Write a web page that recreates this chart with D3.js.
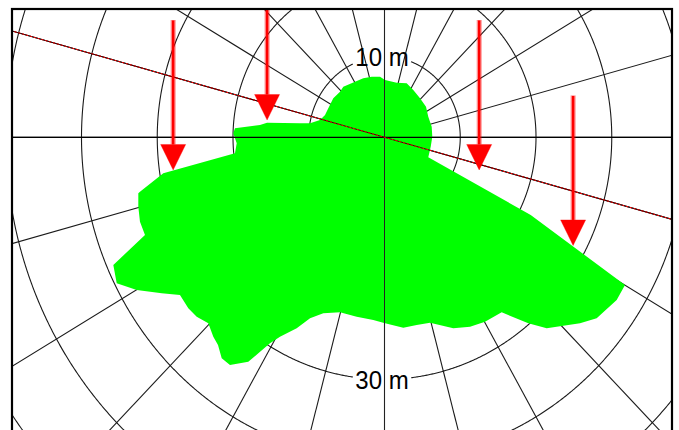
<!DOCTYPE html>
<html>
<head>
<meta charset="utf-8">
<script src="https://cdn.jsdelivr.net/npm/d3@7"></script>
<style>
  html, body { margin: 0; padding: 0; background: #fff; }
  svg { display: block; }
</style>
</head>
<body>
<svg id="chart" width="679" height="430"></svg>
<script>
// Range rings (m) and spoke azimuths (deg, counter-clockwise from east)
const ringRadii = [10, 20, 30, 40, 50, 60, 70];
const spokeAngles = d3.range(0, 360, 15);

// Ring labels
const labelRadii = [10, 30];
const labelTexts = ["10 m", "30 m"];
const labelSides = [1, -1]; // 1 = above centre, -1 = below

// Sight line azimuth (deg)
const sightAngle = 165;

// Covered area outline: east (m) / north (m)
const areaEast = [
  -19.74, -16.44, -15.51, -11.16, -9.83, -8.51, -7.85, -7.42, -6.76, -5.87,
  -5.44, -3.89, -2.80, -1.69, -0.59, 0.07, 1.61, 2.93, 3.80, 4.69,
  5.48, 5.78, 6.23, 6.31, 6.10, 5.78, 19.30, 31.75, 30.65, 28.01,
  25.81, 21.41, 18.98, 15.47, 13.27, 11.29, 9.08, 6.01, 4.25, 2.48,
  0.07, -1.48, -3.67, -5.87, -8.08, -9.83, -11.59, -13.80, -15.12, -17.98,
  -20.40, -21.49, -21.98, -22.60, -23.26, -24.79, -25.90, -27.00, -29.41, -32.71,
  -35.35, -35.80, -31.62, -32.28, -32.50, -32.50, -32.28, -29.20, -19.74, -19.51,
  -19.96
];
const areaNorth = [
  1.12, 1.52, 1.81, 1.73, 1.73, 2.14, 2.76, 3.59, 4.83, 5.65,
  6.27, 6.89, 7.31, 7.51, 7.51, 7.10, 6.77, 6.69, 5.86, 4.83,
  3.79, 2.55, 1.31, 0.07, -1.16, -2.48, -9.63, -18.30, -20.16, -22.43,
  -23.05, -23.67, -23.05, -21.69, -22.85, -23.47, -23.67, -22.97, -23.26, -23.59,
  -23.05, -22.64, -22.23, -21.69, -21.81, -22.43, -23.67, -24.71, -25.53, -27.81,
  -28.22, -27.39, -25.74, -24.71, -23.05, -22.23, -21.19, -19.54, -19.33, -18.92,
  -18.09, -15.82, -12.11, -10.46, -8.60, -6.94, -6.74, -4.46, -1.98, -0.74,
  0.50
];

// Arrows: east position (m) and tip north position (m)
const arrowEast = [-27.9, -15.5, 12.5, 24.9];
const arrowTipNorth = [-4.05, 2.14, -4.05, -13.4];

// ---------------------------------------------------------------
const svg = d3.select("#chart");
const frame = { x: 12, y: 9, w: 660, h: 440 };
const cx = 384.5, cy = 137.3;
const pxPerMx = 7.575, pxPerMy = 8.07;

const x = d3.scaleLinear().domain([-50, 50]).range([cx - 50 * pxPerMx, cx + 50 * pxPerMx]);
const y = d3.scaleLinear().domain([-50, 50]).range([cy + 50 * pxPerMy, cy - 50 * pxPerMy]);
const rad = d => d * Math.PI / 180;

svg.append("defs").append("clipPath").attr("id", "plotClip")
  .append("rect").attr("x", frame.x).attr("y", frame.y).attr("width", frame.w).attr("height", frame.h);

const plot = svg.append("g").attr("clip-path", "url(#plotClip)");

// label geometry
const labelX = x(0) - 2.5;
const labelHalfGap = 29;

// rings (with gaps where a label sits)
const ringLine = d3.line().x(d => d[0]).y(d => d[1]).defined(d => d[2]);
const gridG = plot.append("g").attr("fill", "none").attr("stroke", "#1a1a1a").attr("stroke-width", 1.1);
ringRadii.forEach(r => {
  const li = labelRadii.indexOf(r);
  const pts = d3.range(0, 360.25, 0.25).map(a => {
    const px = x(r * Math.cos(rad(a))), py = y(r * Math.sin(rad(a)));
    let ok = true;
    if (li >= 0) {
      const side = labelSides[li];
      if (Math.abs(px - labelX) < labelHalfGap && (side > 0 ? py < cy : py > cy)) ok = false;
    }
    return [px, py, ok];
  });
  gridG.append("path").attr("d", ringLine(pts));
});

// spokes
const reach = 80;
gridG.selectAll("line.spoke").data(spokeAngles).join("line")
  .attr("class", "spoke")
  .attr("x1", x(0)).attr("y1", y(0))
  .attr("x2", a => x(reach * Math.cos(rad(a))))
  .attr("y2", a => y(reach * Math.sin(rad(a))));

// covered area
const areaPts = areaEast.map((e, i) => [x(e), y(areaNorth[i])]);
plot.append("path")
  .attr("d", d3.line()(areaPts) + "Z")
  .attr("fill", "#00ff00")
  .attr("stroke", "none");

// main axes
plot.append("line")
  .attr("x1", x(-80)).attr("x2", x(80)).attr("y1", y(0)).attr("y2", y(0))
  .attr("stroke", "#000").attr("stroke-width", 1.3);
plot.append("line")
  .attr("x1", x(0)).attr("x2", x(0)).attr("y1", y(80)).attr("y2", y(-80))
  .attr("stroke", "#222").attr("stroke-width", 1);

// sight line
const sx1 = x(reach * Math.cos(rad(sightAngle))), sy1 = y(reach * Math.sin(rad(sightAngle)));
const sx2 = x(-reach * Math.cos(rad(sightAngle))), sy2 = y(-reach * Math.sin(rad(sightAngle)));
plot.append("line").attr("x1", sx1).attr("y1", sy1).attr("x2", sx2).attr("y2", sy2)
  .attr("stroke", "#3a0000").attr("stroke-width", 1);
plot.append("line").attr("x1", sx1).attr("y1", sy1).attr("x2", sx2).attr("y2", sy2)
  .attr("stroke", "#ff0000").attr("stroke-width", 1).attr("stroke-dasharray", "2 2");

// arrows
const arrowLen = 150, headH = 25.5, headHalfW = 12.5;
const arrowG = plot.append("g");
arrowEast.forEach((e, i) => {
  const ax = x(e), tip = y(arrowTipNorth[i]);
  const top = tip - arrowLen, headTop = tip - headH;
  arrowG.append("line").attr("x1", ax).attr("x2", ax).attr("y1", top).attr("y2", headTop)
    .attr("stroke", "rgba(255,0,0,0.45)").attr("stroke-width", 5);
  arrowG.append("line").attr("x1", ax).attr("x2", ax).attr("y1", top + 0.5).attr("y2", headTop)
    .attr("stroke", "#ff0000").attr("stroke-width", 2.4);
  arrowG.append("path")
    .attr("d", `M${ax - headHalfW},${headTop}L${ax + headHalfW},${headTop}L${ax},${tip}Z`)
    .attr("fill", "#ff0000").attr("stroke", "rgba(255,0,0,0.35)").attr("stroke-width", 1);
});

// ring labels
labelRadii.forEach((r, i) => {
  const edgeY = y(labelSides[i] * r);
  plot.append("text")
    .attr("transform", `translate(${labelX},${edgeY + 9.2}) scale(1,1.066)`)
    .attr("text-anchor", "middle")
    .attr("font-family", "'Liberation Sans', Arial, sans-serif")
    .attr("font-size", 24)
    .attr("fill", "#000")
    .text(labelTexts[i]);
});

// frame
svg.append("rect")
  .attr("x", frame.x).attr("y", frame.y).attr("width", frame.w).attr("height", frame.h)
  .attr("fill", "none").attr("stroke", "#000").attr("stroke-width", 2.2);
</script>
</body>
</html>
